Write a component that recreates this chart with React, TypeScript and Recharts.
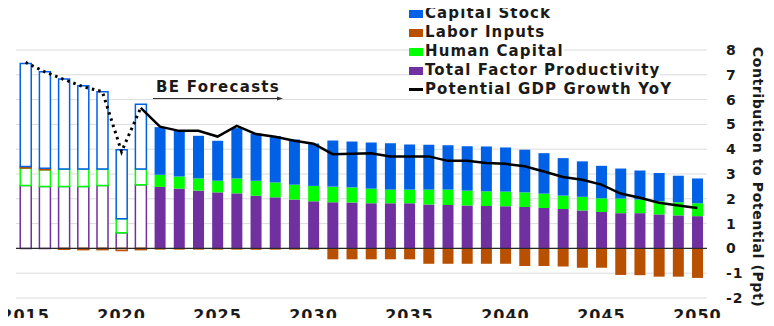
import {
  ComposedChart,
  Bar,
  Line,
  XAxis,
  YAxis,
  CartesianGrid,
  ReferenceLine,
  Cell,
} from 'recharts'

const years = [
  2015, 2016, 2017, 2018, 2019, 2020, 2021, 2022, 2023, 2024, 2025, 2026,
  2027, 2028, 2029, 2030, 2031, 2032, 2033, 2034, 2035, 2036, 2037, 2038,
  2039, 2040, 2041, 2042, 2043, 2044, 2045, 2046, 2047, 2048, 2049, 2050,
]

const totalFactorProductivity = [
  2.54, 2.5, 2.5, 2.5, 2.54, 0.63, 2.57, 2.48, 2.41, 2.33, 2.26, 2.22,
  2.12, 2.06, 1.97, 1.9, 1.86, 1.85, 1.82, 1.82, 1.82, 1.77, 1.75, 1.73,
  1.71, 1.7, 1.67, 1.63, 1.59, 1.53, 1.47, 1.42, 1.42, 1.37, 1.33, 1.3,
]

const humanCapital = [
  0.7, 0.67, 0.7, 0.7, 0.66, 0.57, 0.63, 0.49, 0.49, 0.49, 0.47, 0.6,
  0.61, 0.6, 0.6, 0.62, 0.63, 0.61, 0.59, 0.55, 0.55, 0.6, 0.62, 0.6,
  0.59, 0.59, 0.59, 0.58, 0.54, 0.55, 0.55, 0.59, 0.55, 0.53, 0.53, 0.52,
]

const laborInputs = [
  0.06, 0.06, -0.03, -0.05, -0.05, -0.08, -0.05, -0.05, -0.05, -0.05, -0.05, -0.05,
  -0.05, -0.05, -0.05, -0.05, -0.44, -0.44, -0.44, -0.44, -0.44, -0.62, -0.62, -0.62,
  -0.62, -0.62, -0.71, -0.71, -0.73, -0.78, -0.78, -1.07, -1.08, -1.14, -1.14, -1.19,
]

const capitalStock = [
  4.16, 3.89, 3.63, 3.36, 3.12, 2.78, 2.61, 1.92, 1.84, 1.72, 1.61, 2.03,
  1.9, 1.87, 1.82, 1.71, 1.86, 1.85, 1.86, 1.87, 1.82, 1.81, 1.79, 1.79,
  1.81, 1.78, 1.72, 1.63, 1.51, 1.43, 1.31, 1.21, 1.17, 1.14, 1.07, 1.0,
]

const potentialGdpGrowth = [
  7.5, 7.12, 6.81, 6.52, 6.32, 3.9, 5.67, 4.91, 4.74, 4.74, 4.51, 4.94,
  4.61, 4.5, 4.34, 4.22, 3.8, 3.82, 3.84, 3.71, 3.71, 3.71, 3.53, 3.53,
  3.44, 3.41, 3.31, 3.1, 2.88, 2.77, 2.57, 2.21, 2.04, 1.84, 1.73, 1.63,
]

const yTicks = [-2, -1, 0, 1, 2, 3, 4, 5, 6, 7, 8]

const LAST_ACTUAL = 2021

const COLORS = {
  capital: '#0060E6',
  labor: '#B85000',
  human: '#00FF00',
  tfp: '#7030A0',
  line: '#000000',
  text: '#1a1a1a',
  grid: '#dcdcdc',
}

const FONT = '"DejaVu Sans", Verdana, sans-serif'

const legendItems = [
  { label: 'Capital Stock', color: COLORS.capital, kind: 'box' },
  { label: 'Labor Inputs', color: COLORS.labor, kind: 'box' },
  { label: 'Human Capital', color: COLORS.human, kind: 'box' },
  { label: 'Total Factor Productivity', color: COLORS.tfp, kind: 'box' },
  { label: 'Potential GDP Growth YoY', color: COLORS.line, kind: 'line' },
]

const data = years.map((year, i) => ({
  year,
  tfp: totalFactorProductivity[i],
  human: humanCapital[i],
  labor: laborInputs[i],
  capital: capitalStock[i],
  actualLine: year <= LAST_ACTUAL ? potentialGdpGrowth[i] : null,
  forecastLine: year >= LAST_ACTUAL ? potentialGdpGrowth[i] : null,
}))

const barSeries = [
  { key: 'tfp', color: COLORS.tfp },
  { key: 'human', color: COLORS.human },
  { key: 'labor', color: COLORS.labor },
  { key: 'capital', color: COLORS.capital },
]

export default function App() {
  return (
    <div style={{ margin: -8, position: 'relative', width: 774, height: 326, fontFamily: FONT }}>
      <ComposedChart
        width={774}
        height={326}
        data={data}
        stackOffset="sign"
        barCategoryGap="22%"
        margin={{ top: 50, left: 16, right: 0, bottom: 0 }}
      >
        <CartesianGrid vertical={false} stroke={COLORS.grid} strokeWidth={1} />
        <XAxis
          dataKey="year"
          interval={4}
          axisLine={false}
          tickLine={false}
          tickSize={0}
          tickMargin={12}
          height={28}
          tick={{ fill: COLORS.text, fontSize: 16, fontWeight: 700, fontFamily: FONT, letterSpacing: 1 }}
        />
        <YAxis
          orientation="right"
          domain={[-2, 8]}
          ticks={yTicks}
          interval={0}
          width={67}
          axisLine={false}
          tickLine={false}
          tickSize={0}
          tickMargin={19}
          tick={{ fill: COLORS.text, fontSize: 14, fontWeight: 700, fontFamily: FONT, letterSpacing: 1 }}
        />
        {barSeries.map((s) => (
          <Bar key={s.key} dataKey={s.key} stackId="a" isAnimationActive={false}>
            {data.map((d) => (
              <Cell
                key={`${s.key}-${d.year}`}
                fill={d.year <= LAST_ACTUAL ? '#ffffff' : s.color}
                stroke={d.year <= LAST_ACTUAL ? s.color : 'none'}
                strokeWidth={d.year <= LAST_ACTUAL ? 1.5 : 0}
              />
            ))}
          </Bar>
        ))}
        <ReferenceLine y={0} stroke="#2a2a2a" strokeWidth={1.2} />
        <Line
          dataKey="actualLine"
          stroke={COLORS.line}
          strokeWidth={3}
          strokeDasharray="2.5 4"
          dot={false}
          activeDot={false}
          isAnimationActive={false}
        />
        <Line
          dataKey="forecastLine"
          stroke={COLORS.line}
          strokeWidth={2.5}
          dot={false}
          activeDot={false}
          isAnimationActive={false}
        />
      </ComposedChart>

      {/* Legend */}
      <div style={{ position: 'absolute', left: 409, top: 4 }}>
        {legendItems.map((item) => (
          <div
            key={item.label}
            style={{ display: 'flex', alignItems: 'center', height: 19, lineHeight: '19px' }}
          >
            <div style={{ background: '#fff', display: 'flex', alignItems: 'center' }}>
              <div
                style={{
                  width: 14,
                  height: item.kind === 'line' ? 2.5 : 8,
                  marginRight: 2,
                  backgroundColor: item.color,
                }}
              />
              <span style={{ fontSize: 15, fontWeight: 700, color: COLORS.text, letterSpacing: 1.1 }}>
                {item.label}
              </span>
            </div>
          </div>
        ))}
      </div>

      {/* Annotations */}
      <svg
        width={774}
        height={326}
        style={{ position: 'absolute', left: 0, top: 0, pointerEvents: 'none' }}
      >
        <text
          x={156}
          y={92}
          fontSize={15}
          fontWeight={700}
          fill={COLORS.text}
          fontFamily={FONT}
          letterSpacing={1.3}
        >
          BE Forecasts
        </text>
        <line x1={153} y1={98.5} x2={280} y2={98.5} stroke="#333" strokeWidth={1} />
        <path d="M277,96.5 L283,98.5 L277,100.5 Z" fill="#333" />
        <text
          x={0}
          y={0}
          transform="translate(753,177) rotate(90)"
          textAnchor="middle"
          fontSize={14}
          fontWeight={700}
          fill={COLORS.text}
          fontFamily={FONT}
          letterSpacing={0.6}
        >
          Contribution to Potential (Ppt)
        </text>
      </svg>
    </div>
  )
}
